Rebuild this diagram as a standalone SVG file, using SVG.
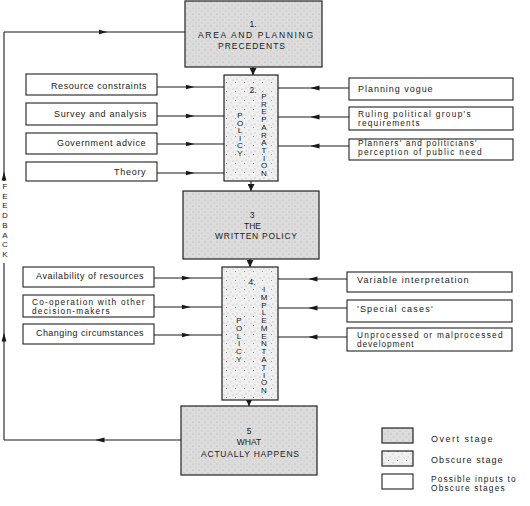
<svg xmlns="http://www.w3.org/2000/svg" width="530" height="506" viewBox="0 0 530 506">
<defs>
<style>
text{font-family:"Liberation Sans","DejaVu Sans",Arial,sans-serif;fill:#1a1a1a}
.lab{font-size:9px;letter-spacing:0.4px}
.lab2{font-size:8.3px;letter-spacing:0.4px}
.cap{font-size:8.5px;text-anchor:middle}
.vt{font-size:8px;text-anchor:middle}
.box{stroke:#222;stroke-width:1.2}
.in{fill:#fff;stroke:#222;stroke-width:1.1}
.ln{fill:none;stroke:#1a1a1a;stroke-width:1.1}
</style>
<pattern id="overt" width="6" height="6" patternUnits="userSpaceOnUse">
<rect width="6" height="6" fill="#dcdcdc"/>
<circle cx="1" cy="2" r="0.5" fill="#a0a0a0"/>
<circle cx="4" cy="5" r="0.5" fill="#b4b4b4"/>
</pattern>
<pattern id="obscure" width="9" height="9" patternUnits="userSpaceOnUse">
<rect width="9" height="9" fill="#f0f0f0"/>
<circle cx="1.5" cy="1.5" r="0.5" fill="#777"/>
<circle cx="6" cy="4" r="0.45" fill="#888"/>
<circle cx="3" cy="7" r="0.5" fill="#999"/>
<circle cx="8" cy="8" r="0.4" fill="#666"/>
<circle cx="5" cy="0.8" r="0.35" fill="#aaa"/>
</pattern>
<marker id="mid" markerUnits="userSpaceOnUse" markerWidth="9" markerHeight="6" refX="4.5" refY="3" orient="auto">
<path d="M0,0.6 L9,3 L0,5.4 z" fill="#1a1a1a"/>
</marker>
<marker id="end" markerUnits="userSpaceOnUse" markerWidth="7" markerHeight="7" refX="7" refY="3.5" orient="auto">
<path d="M0,0 L7,3.5 L0,7 z" fill="#1a1a1a"/>
</marker>
</defs>

<g id="connectors">
<path class="ln" d="M253,67 L253,75" marker-end="url(#end)"/>
<path class="ln" d="M251,181 L251,191" marker-end="url(#end)"/>
<path class="ln" d="M250,259 L250,267" marker-end="url(#end)"/>
<path class="ln" d="M249,400 L249,406" marker-end="url(#end)"/>
<path class="ln" d="M157,87 L190,87 L224,87" marker-mid="url(#mid)"/>
<path class="ln" d="M157,116 L190,116 L224,116" marker-mid="url(#mid)"/>
<path class="ln" d="M157,144 L190,144 L224,144" marker-mid="url(#mid)"/>
<path class="ln" d="M157,173 L190,173 L224,173" marker-mid="url(#mid)"/>
<path class="ln" d="M349,88 L315,88 L278,88" marker-mid="url(#mid)"/>
<path class="ln" d="M349,117 L315,117 L278,117" marker-mid="url(#mid)"/>
<path class="ln" d="M349,146 L315,146 L278,146" marker-mid="url(#mid)"/>
<path class="ln" d="M154,278 L186,278 L222,278" marker-mid="url(#mid)"/>
<path class="ln" d="M154,307 L186,307 L222,307" marker-mid="url(#mid)"/>
<path class="ln" d="M154,335 L186,335 L222,335" marker-mid="url(#mid)"/>
<path class="ln" d="M347,279 L313,279 L278,279" marker-mid="url(#mid)"/>
<path class="ln" d="M347,308 L313,308 L278,308" marker-mid="url(#mid)"/>
<path class="ln" d="M347,337 L313,337 L278,337" marker-mid="url(#mid)"/>
<path class="ln" d="M181,440 L100,440 L4,440" marker-mid="url(#mid)"/>
<path class="ln" d="M4,440 L4,337 L4,263" marker-mid="url(#mid)"/>
<path class="ln" d="M4,181 L4,176 L4,32" marker-mid="url(#mid)"/>
<path class="ln" d="M4,32 L103,32 L185,32" marker-mid="url(#mid)"/>
<text class="vt" x="5" y="189">F</text>
<text class="vt" x="5" y="198.7">E</text>
<text class="vt" x="5" y="208.4">E</text>
<text class="vt" x="5" y="218.1">D</text>
<text class="vt" x="5" y="227.8">B</text>
<text class="vt" x="5" y="237.5">A</text>
<text class="vt" x="5" y="247.2">C</text>
<text class="vt" x="5" y="256.9">K</text>
</g>

<g id="stage1">
<rect class="box" x="185" y="1" width="137" height="66" fill="url(#overt)"/>
<text class="cap" x="253" y="27">1.</text>
<text class="cap" x="255.5" y="38" textLength="115" lengthAdjust="spacing">AREA AND PLANNING</text>
<text class="cap" x="251.5" y="49" textLength="67" lengthAdjust="spacing">PRECEDENTS</text>
</g>

<g id="stage2">
<rect class="box" x="224" y="75" width="54" height="106" fill="url(#obscure)"/>
<text class="cap" x="253" y="93">2.</text>
<text class="vt" x="240" y="118">P</text>
<text class="vt" x="240" y="125.5">O</text>
<text class="vt" x="240" y="133">L</text>
<text class="vt" x="240" y="140.5">I</text>
<text class="vt" x="240" y="148">C</text>
<text class="vt" x="240" y="155.5">Y</text>
<text class="vt" x="264" y="99">P</text>
<text class="vt" x="264" y="106.7">R</text>
<text class="vt" x="264" y="114.4">E</text>
<text class="vt" x="264" y="122.1">P</text>
<text class="vt" x="264" y="129.8">A</text>
<text class="vt" x="264" y="137.5">R</text>
<text class="vt" x="264" y="145.2">A</text>
<text class="vt" x="264" y="152.9">T</text>
<text class="vt" x="264" y="160.6">I</text>
<text class="vt" x="264" y="168.3">O</text>
<text class="vt" x="264" y="176">N</text>
</g>

<g id="in-resource">
<rect class="in" x="26" y="74" width="131" height="21"/>
<text class="lab" x="51" y="88.5" textLength="96" lengthAdjust="spacing">Resource constraints</text>
</g>
<g id="in-survey">
<rect class="in" x="26" y="103" width="131" height="22"/>
<text class="lab" x="54" y="117" textLength="93" lengthAdjust="spacing">Survey and analysis</text>
</g>
<g id="in-government">
<rect class="in" x="26" y="133" width="131" height="21"/>
<text class="lab" x="57" y="146" textLength="89" lengthAdjust="spacing">Government advice</text>
</g>
<g id="in-theory">
<rect class="in" x="26" y="162" width="131" height="19"/>
<text class="lab" x="114" y="175" textLength="32" lengthAdjust="spacing">Theory</text>
</g>
<g id="in-vogue">
<rect class="in" x="349" y="78" width="164" height="22"/>
<text class="lab" x="358" y="92" textLength="75" lengthAdjust="spacing">Planning vogue</text>
</g>
<g id="in-ruling">
<rect class="in" x="349" y="107" width="164" height="23"/>
<text class="lab2" x="358" y="116.5" textLength="113" lengthAdjust="spacing">Ruling political group's</text>
<text class="lab2" x="358" y="125.5" textLength="62" lengthAdjust="spacing">requirements</text>
</g>
<g id="in-perception">
<rect class="in" x="349" y="139" width="164" height="21"/>
<text class="lab2" x="358" y="146" textLength="119" lengthAdjust="spacing">Planners' and politicians'</text>
<text class="lab2" x="358" y="155" textLength="124" lengthAdjust="spacing">perception of public need</text>
</g>

<g id="stage3">
<rect class="box" x="183" y="191" width="136" height="68" fill="url(#overt)"/>
<text class="cap" x="252" y="218">3</text>
<text class="cap" x="252.5" y="229">THE</text>
<text class="cap" x="256" y="239" textLength="82" lengthAdjust="spacing">WRITTEN POLICY</text>
</g>

<g id="stage4">
<rect class="box" x="222" y="267" width="56" height="133" fill="url(#obscure)"/>
<text class="cap" x="252" y="285">4.</text>
<text class="vt" x="239" y="323">P</text>
<text class="vt" x="239" y="330.8">O</text>
<text class="vt" x="239" y="338.6">L</text>
<text class="vt" x="239" y="346.4">I</text>
<text class="vt" x="239" y="354.2">C</text>
<text class="vt" x="239" y="362">Y</text>
<text class="vt" x="264" y="292">I</text>
<text class="vt" x="264" y="299.8">M</text>
<text class="vt" x="264" y="307.5">P</text>
<text class="vt" x="264" y="315.3">L</text>
<text class="vt" x="264" y="323.1">E</text>
<text class="vt" x="264" y="330.9">M</text>
<text class="vt" x="264" y="338.6">E</text>
<text class="vt" x="264" y="346.4">N</text>
<text class="vt" x="264" y="354.2">T</text>
<text class="vt" x="264" y="362">A</text>
<text class="vt" x="264" y="369.7">T</text>
<text class="vt" x="264" y="377.5">I</text>
<text class="vt" x="264" y="385.3">O</text>
<text class="vt" x="264" y="393">N</text>
</g>

<g id="in-availability">
<rect class="in" x="23" y="267" width="131" height="20"/>
<text class="lab" x="36" y="279" textLength="108" lengthAdjust="spacing">Availability of resources</text>
</g>
<g id="in-cooperation">
<rect class="in" x="23" y="295" width="131" height="22"/>
<text class="lab2" x="32" y="305" textLength="113" lengthAdjust="spacing">Co-operation with other</text>
<text class="lab2" x="32" y="314" textLength="78" lengthAdjust="spacing">decision-makers</text>
</g>
<g id="in-changing">
<rect class="in" x="23" y="324" width="131" height="20"/>
<text class="lab" x="36" y="336" textLength="108" lengthAdjust="spacing">Changing circumstances</text>
</g>
<g id="in-variable">
<rect class="in" x="347" y="272" width="165" height="20"/>
<text class="lab" x="357" y="283" textLength="112" lengthAdjust="spacing">Variable interpretation</text>
</g>
<g id="in-special">
<rect class="in" x="347" y="300" width="165" height="22"/>
<text class="lab" x="357" y="312" textLength="76" lengthAdjust="spacing">'Special cases'</text>
</g>
<g id="in-unprocessed">
<rect class="in" x="347" y="328" width="165" height="23"/>
<text class="lab2" x="357" y="338" textLength="146" lengthAdjust="spacing">Unprocessed or malprocessed</text>
<text class="lab2" x="357" y="347" textLength="57" lengthAdjust="spacing">development</text>
</g>

<g id="stage5">
<rect class="box" x="181" y="406" width="136" height="69" fill="url(#overt)"/>
<text class="cap" x="249" y="434">5</text>
<text class="cap" x="249" y="445">WHAT</text>
<text class="cap" x="250" y="457" textLength="98" lengthAdjust="spacing">ACTUALLY HAPPENS</text>
</g>

<g id="legend">
<rect class="box" x="382" y="428" width="31" height="15" fill="url(#overt)"/>
<rect class="box" x="382" y="451" width="31" height="15" fill="url(#obscure)"/>
<rect class="in" x="382" y="474" width="31" height="15"/>
<text class="lab" x="431" y="442" textLength="62" lengthAdjust="spacing">Overt stage</text>
<text class="lab" x="431" y="463" textLength="72" lengthAdjust="spacing">Obscure stage</text>
<text class="lab2" x="431" y="482" textLength="85" lengthAdjust="spacing">Possible inputs to</text>
<text class="lab2" x="431" y="491" textLength="74" lengthAdjust="spacing">Obscure stages</text>
</g>
</svg>
